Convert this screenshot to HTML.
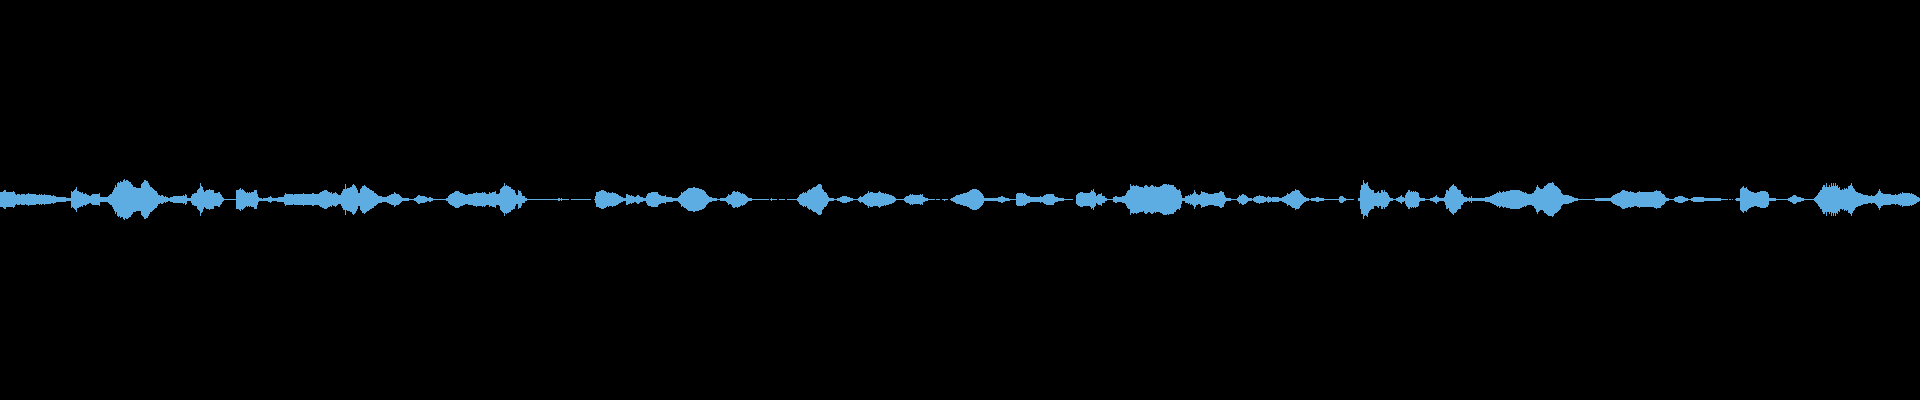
<!DOCTYPE html>
<html><head><meta charset="utf-8"><title>waveform</title>
<style>
html,body{margin:0;padding:0;background:#000;width:1920px;height:400px;overflow:hidden;font-family:"Liberation Sans",sans-serif;}
svg{display:block;position:absolute;left:0;top:0;}
</style></head><body>
<svg width="1920" height="400" viewBox="0 0 1920 400" shape-rendering="crispEdges">
<rect width="1920" height="400" fill="#000"/>
<path fill="#5dade2" d="M0 192H3V191H4V190H6V192H13V191H14V192H15V194H16V195H17V194H20V195H21V194H25V195H26V194H28V193H29V194H36V195H39V194H40V195H41V194H42V195H44V194H45V195H51V196H53V195H54V196H56V197H66V198H71V191H72V192H73V191H74V190H75V189H76V187H77V191H79V192H81V193H82V192H83V194H85V193H86V194H87V195H89V196H91V195H92V194H99V193H100V197H108V196H109V195H110V194H112V192H113V190H114V188H115V185H116V187H117V183H118V182H119V183H120V181H121V182H123V180H124V179H125V181H126V180H128V181H129V182H131V184H132V185H133V187H136V188H141V184H142V183H143V182H144V180H146V181H148V183H149V185H150V187H152V188H153V189H154V190H155V191H157V193H158V195H160V196H161V195H163V196H164V197H165V196H166V197H168V198H170V197H173V196H183V195H184V196H185V194H186V195H187V198H191V196H192V194H194V193H197V190H198V189H199V188H200V183H201V186H202V187H203V190H204V192H205V191H206V190H209V189H210V190H214V193H218V192H220V194H221V195H222V197H223V198H224V199H236V190H239V189H240V188H241V190H242V189H243V190H244V191H245V192H246V193H247V192H248V193H249V192H250V193H251V192H254V190H257V194H258V197H259V198H262V199H263V198H268V197H270V196H271V197H272V198H278V197H284V195H285V193H286V194H293V195H294V194H303V193H304V194H312V193H314V194H319V193H320V192H322V191H324V190H327V191H328V192H330V193H331V192H332V194H333V193H335V192H336V193H337V194H338V195H341V193H342V191H343V189H345V184H346V189H347V188H350V187H352V185H353V184H354V185H355V186H356V188H357V190H358V193H360V189H361V188H362V186H364V185H365V186H366V187H367V188H369V189H370V190H372V191H374V193H376V194H377V195H378V196H382V197H387V196H389V195H391V194H394V192H395V193H396V194H399V195H400V196H401V197H402V198H409V199H414V198H416V197H417V196H418V195H420V196H425V197H427V198H429V197H431V198H433V199H446V198H448V196H449V195H450V194H452V193H454V192H455V191H459V192H460V193H463V194H465V195H468V194H473V193H476V192H477V193H482V192H483V193H484V192H485V193H486V194H489V192H490V193H492V192H495V191H496V194H499V193H500V189H501V188H502V187H503V186H504V183H505V186H506V185H507V186H509V187H511V189H513V190H515V193H516V195H518V190H519V191H521V193H522V196H525V198H527V199H558V198H560V199H561V198H562V199H569V200H562V201H561V200H560V201H558V200H527V201H525V203H522V206H521V208H519V209H518V204H516V206H515V209H513V210H511V212H509V213H507V214H506V213H505V216H504V213H503V212H502V211H501V210H500V206H499V205H496V208H495V207H492V206H490V207H489V205H486V206H485V207H484V206H483V207H482V206H477V207H476V206H473V205H468V204H465V205H463V206H460V207H459V208H455V207H454V206H452V205H450V204H449V203H448V201H446V200H433V201H431V202H429V201H427V202H425V203H420V204H418V203H417V202H416V201H414V200H409V201H402V202H401V203H400V204H399V205H396V206H395V207H394V205H391V204H389V203H387V202H382V203H378V204H377V205H376V206H374V208H372V209H370V210H369V211H367V212H366V213H365V214H364V213H362V211H361V210H360V206H358V209H357V211H356V213H355V214H354V215H353V214H352V212H350V211H347V210H346V215H345V210H343V208H342V206H341V204H338V205H337V206H336V207H335V206H333V205H332V207H331V206H330V207H328V208H327V209H324V208H322V207H320V206H319V205H314V206H312V205H304V206H303V205H294V204H293V205H286V206H285V204H284V202H277V201H272V202H271V203H270V202H268V201H259V202H258V205H257V209H254V207H251V206H250V207H249V206H248V207H247V206H246V207H245V208H244V209H243V210H242V209H241V211H240V210H239V209H236V200H224V201H223V202H222V204H221V205H220V207H218V206H214V209H210V210H209V209H206V208H205V207H204V209H203V212H202V213H201V216H200V211H199V210H198V209H197V206H194V205H192V203H191V201H187V204H186V205H185V203H184V204H183V203H173V202H170V201H168V202H166V203H165V202H164V203H163V204H161V203H160V204H158V206H157V208H155V209H154V210H153V211H152V212H150V214H149V216H148V218H146V219H144V217H143V216H142V215H141V211H136V212H133V214H132V215H131V217H129V218H128V219H126V218H125V220H124V219H123V217H121V218H120V216H119V217H118V216H117V212H116V214H115V211H114V209H113V207H112V205H110V204H109V203H108V202H100V206H99V205H92V204H91V203H89V204H87V205H86V206H85V205H83V207H82V206H81V207H79V208H77V212H76V210H75V209H74V208H73V207H72V208H71V201H66V202H56V203H54V204H53V203H51V204H45V205H44V204H42V205H41V204H40V205H39V204H36V205H29V206H28V205H26V204H25V205H21V204H20V205H17V204H16V205H15V207H14V208H13V207H6V209H4V208H3V207H0ZM571 199H591V200H571ZM594 199H595V196H596V192H599V191H601V190H604V191H606V192H607V193H608V192H609V193H612V192H613V193H616V194H618V195H619V196H621V197H623V198H626V194H628V195H630V196H631V195H632V196H634V197H636V196H637V195H639V196H640V197H643V198H646V196H647V194H648V193H651V192H658V194H659V195H661V196H665V195H666V197H672V198H678V197H679V196H680V195H681V192H682V193H683V192H684V191H686V190H687V189H688V188H693V187H695V188H699V189H702V190H704V191H705V192H706V194H707V195H708V196H709V197H712V198H717V199H720V198H726V197H727V196H728V194H729V195H731V194H732V192H733V191H735V192H737V191H738V192H740V193H741V194H742V193H743V194H745V195H746V196H747V197H748V198H752V199H769V200H752V201H748V202H747V203H746V204H745V205H743V206H742V205H741V206H740V207H738V208H737V207H735V208H733V207H732V205H731V204H729V205H728V203H727V202H726V201H720V200H717V201H712V202H709V203H708V204H707V205H706V207H705V208H704V209H702V210H699V211H695V212H693V211H688V210H687V209H686V208H684V207H683V206H682V207H681V204H680V203H679V202H678V201H673V202H666V204H665V203H661V204H659V205H658V207H651V206H648V205H647V203H646V201H643V202H640V203H639V204H637V203H636V202H634V203H632V204H631V203H630V204H628V205H626V201H623V202H621V203H619V204H618V205H616V206H613V207H612V206H609V207H608V206H607V207H606V208H604V209H601V208H599V207H596V203H595V200H594ZM770 199H771V198H772V199H777V200H772V201H771V200H770ZM779 199H785V200H779ZM787 199H797V198H798V197H799V195H800V194H802V193H803V192H804V193H805V192H806V193H807V191H808V190H809V189H810V190H811V189H812V188H813V187H816V186H817V185H818V184H821V185H822V189H823V190H824V192H826V193H827V195H828V197H829V198H834V199H837V198H840V197H842V196H847V197H850V198H853V199H858V198H859V197H860V196H861V197H863V196H864V195H865V194H867V193H868V191H869V193H870V192H873V193H878V192H879V191H880V192H881V193H884V194H885V193H886V194H889V195H892V196H894V197H895V198H896V199H904V198H905V197H906V196H909V195H910V194H911V195H912V194H913V195H920V194H921V195H922V194H923V197H925V198H928V199H935V200H928V201H925V202H923V205H922V204H921V205H920V204H913V205H912V204H911V205H910V204H909V203H906V202H905V201H904V200H896V201H895V202H894V203H892V204H889V205H886V206H885V205H884V206H881V207H880V208H879V207H878V206H873V207H870V206H869V208H868V206H867V205H865V204H864V203H863V202H861V203H860V202H859V201H858V200H853V201H850V202H847V203H842V202H840V201H837V200H834V201H829V202H828V204H827V206H826V207H824V209H823V210H822V214H821V215H818V214H817V213H816V212H813V211H812V210H811V209H810V210H809V209H808V208H807V206H806V207H805V206H804V207H803V206H802V205H800V204H799V202H798V201H797V200H787ZM936 199H940V200H936ZM942 199H948V200H945V201H944V200H942ZM950 199H951V198H953V197H955V196H956V195H960V194H963V193H967V192H969V191H970V190H972V189H977V190H979V191H980V192H981V193H982V194H983V196H984V198H998V197H1001V196H1003V197H1005V198H1009V199H1016V194H1017V193H1023V194H1024V193H1025V194H1026V195H1027V196H1030V197H1040V196H1041V197H1043V196H1044V195H1046V194H1054V196H1055V197H1058V198H1064V199H1073V200H1064V201H1058V202H1055V203H1054V205H1046V204H1044V203H1043V202H1041V203H1040V202H1030V203H1027V204H1026V205H1025V206H1024V205H1023V206H1017V205H1016V200H1010V201H1005V202H1003V203H1001V202H998V201H984V203H983V205H982V206H981V207H980V208H979V209H977V210H972V209H970V208H969V207H967V206H963V205H960V204H956V203H955V202H953V201H951V200H950ZM1076 195H1077V194H1078V193H1080V192H1083V193H1090V192H1091V190H1092V191H1093V189H1094V192H1095V193H1096V196H1097V195H1098V194H1101V193H1102V196H1105V198H1107V199H1113V197H1115V196H1117V197H1122V196H1125V195H1126V193H1127V191H1128V190H1130V184H1131V186H1133V185H1134V186H1136V185H1137V186H1139V187H1143V188H1144V186H1145V185H1147V186H1148V187H1150V186H1151V185H1153V186H1154V187H1155V186H1156V187H1160V186H1162V185H1163V184H1167V185H1168V184H1169V185H1174V187H1176V189H1177V190H1179V189H1180V191H1181V195H1182V198H1185V196H1188V195H1189V196H1190V194H1191V195H1192V194H1193V193H1194V190H1195V192H1196V194H1198V195H1200V194H1201V191H1202V192H1205V193H1208V194H1214V193H1219V192H1220V191H1222V192H1224V195H1225V197H1226V198H1231V199H1237V198H1238V197H1239V195H1240V196H1241V195H1242V194H1244V195H1246V196H1247V197H1248V198H1252V199H1253V198H1254V197H1256V196H1259V195H1260V196H1264V197H1266V198H1267V197H1268V196H1269V197H1271V198H1272V197H1279V198H1282V197H1284V196H1286V195H1287V193H1288V194H1290V193H1291V192H1292V191H1295V189H1296V190H1299V191H1300V193H1301V194H1302V195H1303V196H1304V197H1306V198H1309V199H1311V198H1316V197H1319V198H1324V199H1339V197H1340V196H1343V197H1344V198H1346V199H1354V200H1346V201H1344V202H1343V203H1340V202H1339V200H1324V201H1319V202H1316V201H1311V200H1309V201H1306V202H1304V203H1303V204H1302V205H1301V206H1300V208H1299V209H1296V210H1295V208H1292V207H1291V206H1290V205H1288V206H1287V204H1286V203H1284V202H1282V201H1279V202H1272V201H1271V202H1269V203H1268V202H1267V201H1266V202H1264V203H1260V204H1259V203H1256V202H1254V201H1253V200H1252V201H1248V202H1247V203H1246V204H1244V205H1242V204H1241V203H1240V204H1239V202H1238V201H1237V200H1231V201H1226V202H1225V204H1224V207H1222V208H1220V207H1219V206H1214V205H1208V206H1205V207H1202V208H1201V205H1200V204H1198V205H1196V207H1195V209H1194V206H1193V205H1192V204H1191V205H1190V203H1189V204H1188V203H1185V201H1182V204H1181V208H1180V210H1179V209H1177V210H1176V212H1174V214H1169V215H1168V214H1167V215H1163V214H1162V213H1160V212H1156V213H1155V212H1154V213H1153V214H1151V213H1150V212H1148V213H1147V214H1145V213H1144V211H1143V212H1139V213H1137V214H1136V213H1134V214H1133V213H1131V215H1130V209H1128V208H1127V206H1126V204H1125V203H1122V202H1117V203H1115V202H1113V200H1107V201H1105V203H1102V206H1101V205H1098V204H1097V203H1096V206H1095V207H1094V210H1093V208H1092V209H1091V207H1090V206H1083V207H1080V206H1078V205H1077V204H1076ZM1358 198H1360V190H1361V185H1363V180H1364V183H1365V184H1366V183H1367V182H1368V186H1369V188H1370V189H1371V190H1374V193H1377V192H1378V191H1379V193H1381V190H1383V192H1384V190H1385V192H1387V193H1388V195H1389V197H1390V198H1393V199H1396V198H1398V197H1400V196H1401V195H1402V197H1404V198H1405V195H1406V193H1407V192H1408V190H1410V192H1411V191H1412V192H1413V191H1414V192H1415V191H1416V192H1418V193H1419V197H1420V198H1425V199H1430V198H1433V197H1435V196H1436V195H1437V197H1439V198H1444V197H1445V194H1446V190H1448V191H1449V188H1450V187H1451V186H1452V185H1453V184H1454V186H1456V187H1457V189H1458V190H1461V194H1463V196H1464V197H1467V198H1469V197H1470V198H1471V196H1472V198H1485V197H1490V196H1492V195H1494V194H1496V193H1497V192H1498V193H1499V191H1500V192H1501V193H1502V192H1503V191H1504V192H1506V191H1510V190H1520V191H1522V192H1524V193H1525V192H1526V193H1527V194H1532V193H1534V191H1535V190H1536V187H1537V185H1538V187H1539V188H1540V189H1543V188H1544V186H1546V185H1547V184H1548V183H1552V182H1553V183H1554V185H1555V186H1557V187H1558V188H1559V189H1560V190H1561V193H1562V194H1563V195H1569V196H1572V197H1574V198H1578V199H1595V198H1611V197H1612V196H1613V195H1615V194H1617V193H1620V192H1621V191H1622V190H1625V191H1628V192H1630V191H1631V192H1634V193H1637V192H1639V191H1640V192H1654V191H1656V190H1657V191H1661V193H1662V194H1664V195H1665V197H1666V198H1669V199H1674V198H1675V197H1678V196H1683V197H1685V198H1688V199H1691V198H1693V197H1704V198H1721V199H1728V200H1721V201H1704V202H1693V201H1691V200H1688V201H1685V202H1683V203H1678V202H1675V201H1674V200H1669V201H1666V202H1665V204H1664V205H1662V206H1661V208H1657V209H1656V208H1654V207H1640V208H1639V207H1637V206H1634V207H1631V208H1630V207H1628V208H1625V209H1622V208H1621V207H1620V206H1617V205H1615V204H1613V203H1612V202H1611V201H1595V200H1578V201H1574V202H1572V203H1569V204H1563V205H1562V206H1561V209H1560V210H1559V211H1558V212H1557V213H1555V214H1554V216H1553V217H1552V216H1548V215H1547V214H1546V213H1544V211H1543V210H1540V211H1539V212H1538V214H1537V212H1536V209H1535V208H1534V206H1532V205H1527V206H1526V207H1525V206H1524V207H1522V208H1520V209H1510V208H1506V207H1504V208H1503V207H1502V206H1501V207H1500V208H1499V206H1498V207H1497V206H1496V205H1494V204H1492V203H1490V202H1485V201H1472V203H1471V201H1470V202H1469V201H1467V202H1464V203H1463V205H1461V209H1458V210H1457V212H1456V213H1454V215H1453V214H1452V213H1451V212H1450V211H1449V208H1448V209H1446V205H1445V202H1444V201H1439V202H1437V204H1436V203H1435V202H1433V201H1430V200H1425V201H1420V202H1419V206H1418V207H1416V208H1415V207H1414V208H1413V207H1412V208H1411V207H1410V209H1408V207H1407V206H1406V204H1405V201H1404V202H1402V204H1401V203H1400V202H1398V201H1396V200H1393V201H1390V202H1389V204H1388V206H1387V207H1385V209H1384V207H1383V209H1381V206H1379V208H1378V207H1377V206H1374V209H1371V210H1370V211H1369V213H1368V217H1367V216H1366V215H1365V216H1364V219H1363V214H1361V209H1360V201H1358ZM1729 199H1731V200H1729ZM1732 199H1733V200H1732ZM1735 199H1736V198H1740V189H1741V188H1742V187H1743V186H1744V188H1746V187H1747V189H1748V190H1749V191H1751V192H1754V193H1757V192H1760V191H1766V192H1768V194H1769V198H1776V199H1788V198H1790V197H1792V196H1793V195H1796V196H1797V197H1801V198H1804V199H1814V198H1815V197H1816V196H1817V195H1818V193H1819V192H1820V190H1822V187H1823V185H1825V187H1826V183H1827V187H1829V185H1830V187H1831V183H1832V186H1833V183H1834V186H1835V183H1836V186H1837V185H1838V188H1839V187H1840V190H1842V189H1843V190H1844V188H1845V189H1846V188H1847V189H1848V186H1850V185H1851V183H1852V186H1853V188H1854V189H1855V191H1856V192H1858V193H1861V194H1863V195H1868V196H1871V195H1872V196H1875V195H1876V194H1877V193H1878V191H1879V189H1880V191H1881V193H1883V194H1891V195H1895V194H1896V195H1898V194H1900V193H1901V194H1902V192H1903V193H1910V194H1911V193H1912V194H1914V195H1916V196H1917V197H1919V198H1920V201H1919V202H1917V203H1916V204H1914V205H1912V206H1911V205H1910V206H1903V207H1902V205H1901V206H1900V205H1898V204H1896V205H1895V204H1891V205H1883V206H1881V208H1880V210H1879V208H1878V206H1877V205H1876V204H1875V203H1872V204H1871V203H1868V204H1863V205H1861V206H1858V207H1856V208H1855V210H1854V211H1853V213H1852V216H1851V214H1850V213H1848V210H1847V211H1846V210H1845V211H1844V209H1843V210H1842V209H1840V212H1839V211H1838V214H1837V213H1836V216H1835V213H1834V216H1833V213H1832V216H1831V212H1830V214H1829V212H1827V216H1826V212H1825V214H1823V212H1822V209H1820V207H1819V206H1818V204H1817V203H1816V202H1815V201H1814V200H1804V201H1801V202H1797V203H1796V204H1793V203H1792V202H1790V201H1788V200H1776V201H1769V205H1768V207H1766V208H1760V207H1757V206H1754V207H1751V208H1749V209H1748V210H1747V212H1746V211H1744V213H1743V212H1742V211H1741V210H1740V201H1736V200H1735Z"/>
</svg>
</body></html>
